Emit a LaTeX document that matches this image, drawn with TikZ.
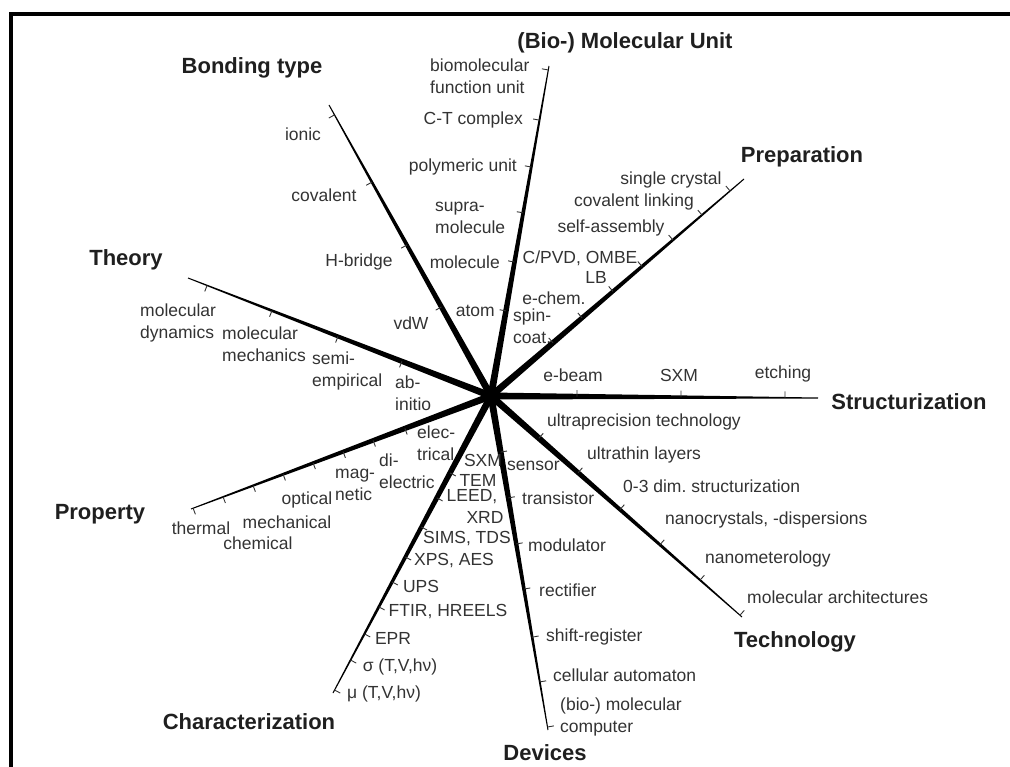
\documentclass[tikz,border=0pt]{standalone}
\usepackage{fontspec}
\setmainfont{Liberation Sans}
\usetikzlibrary{calc}
\frenchspacing
\newcommand\myspoke[1]{\fill[black] ($(c)!3.5pt!90:(#1)$) -- ($(#1)!0.5pt!-90:(c)$) -- ($(#1)!0.5pt!90:(c)$) -- ($(c)!3.5pt!-90:(#1)$) -- cycle;}
\newcommand\mytick[2]{\draw[tk] ($(c)!#2!(#1)$) -- ($(c)!#2!(#1)!6.5pt!90:(#1)$);}
\begin{document}
\begin{tikzpicture}[x=1pt,y=-1pt,
  lbl/.style={inner sep=0pt, font=\fontsize{17.5}{21.5}\selectfont, text=black!80},
  ttl/.style={inner sep=0pt, font=\fontsize{22}{26}\selectfont\bfseries, text=black!88},
  tk/.style={line width=0.9pt, black!80},
  frame/.style={line width=3.3pt}]
\useasboundingbox (0,0) rectangle (1010,767);
\draw[frame] (11,767) -- (11,14) -- (1010,14);
% centre and spoke ends
\coordinate (c) at (491,396);
\coordinate (eB) at (329,105);
\coordinate (eM) at (549,66);
\coordinate (eP) at (744,179);
\coordinate (eS) at (818,398);
\coordinate (eT) at (742,617);
\coordinate (eD) at (548,730);
\coordinate (eK) at (333,693);
\coordinate (eR) at (191,509);
\coordinate (eH) at (188,278);
\foreach \e in {eB,eM,eP,eS,eT,eD,eK,eR,eH} {\myspoke{\e}}
\fill (c) circle (5.5pt);
% ticks
\foreach \t in {0.966,0.735,0.519,0.306} {\mytick{eB}{\t}}
\foreach \t in {0.988,0.836,0.694,0.555,0.406,0.258} {\mytick{eM}{\t}}
\foreach \t in {0.945,0.834,0.719,0.597,0.482,0.360,0.245} {\mytick{eP}{\t}}
\foreach \t in {0.263,0.581,0.899} {\mytick{eS}{\t}}
\foreach \t in {0.191,0.347,0.514,0.673,0.833,0.992} {\mytick{eT}{\t}}
\foreach \t in {0.168,0.305,0.443,0.578,0.722,0.856,0.991} {\mytick{eD}{\t}}
\foreach \t in {0.259,0.343,0.441,0.542,0.626,0.710,0.801,0.889,0.990} {\mytick{eK}{\t}}
\foreach \t in {0.287,0.393,0.493,0.593,0.693,0.793,0.893,0.993} {\mytick{eR}{\t}}
\foreach \t in {0.937,0.723,0.505,0.294} {\mytick{eH}{\t}}
% titles
\node[ttl] (tB) at (252,68) {Bonding type};
\node[ttl] (tM) at (625,43) {(Bio-) Molecular Unit};
\node[ttl] (tP) at (802,157) {Preparation};
\node[ttl] (tS) at (909,402) {Structurization};
\node[ttl] (tT) at (795,642) {Technology};
\node[ttl] (tD) at (545,753) {Devices};
\node[ttl] (tK) at (249,722) {Characterization};
\node[ttl] (tR) at (100,514) {Property};
\node[ttl] (tH) at (126,260) {Theory};
% bonding type
\node[lbl] (ionic) at (303,134) {ionic};
\node[lbl] (coval) at (324,195) {covalent};
\node[lbl] (hbr) at (359,262) {H-bridge};
\node[lbl] (vdw) at (411,323) {vdW};
% molecular unit
\node[lbl,align=left,anchor=west] (bio) at (430,76) {biomolecular\\function unit};
\node[lbl,anchor=east] (ct) at (523,120) {C-T complex};
\node[lbl,anchor=east] (poly) at (517,167) {polymeric unit};
\node[lbl,align=left,anchor=west] (supra) at (435,218) {supra-\\molecule};
\node[lbl,anchor=east] (mol) at (500,262) {molecule};
\node[lbl,anchor=east] (atom) at (495,311) {atom};
% preparation
\node[lbl] (sc) at (671,180) {single crystal};
\node[lbl] (cl) at (634,202) {covalent linking};
\node[lbl] (sa) at (611,228) {self-assembly};
\node[lbl] (cvd) at (580,258) {C/PVD, OMBE};
\node[lbl] (lb) at (596,277) {LB};
\node[lbl] (ech) at (554,298) {e-chem.};
\node[lbl,align=left,anchor=west] (spin) at (513,326) {spin-\\coat.};
% structurization
\node[lbl] (eb) at (573,375) {e-beam};
\node[lbl] (sxmA) at (679,375) {SXM};
\node[lbl] (etch) at (783,374) {etching};
% technology
\node[lbl,anchor=west] (up) at (547,422) {ultraprecision technology};
\node[lbl,anchor=west] (ut) at (587,455) {ultrathin layers};
\node[lbl,anchor=west] (dim) at (623,486) {0-3 dim. structurization};
\node[lbl,anchor=west] (nc) at (665,520) {nanocrystals, -dispersions};
\node[lbl,anchor=west] (nm) at (705,559) {nanometerology};
\node[lbl,anchor=west] (ma) at (747,597) {molecular architectures};
% devices
\node[lbl,anchor=west] (sens) at (507,466) {sensor};
\node[lbl,anchor=west] (tran) at (522,498) {transistor};
\node[lbl,anchor=west] (modu) at (528,545) {modulator};
\node[lbl,anchor=west] (rect) at (539,590) {rectifier};
\node[lbl,anchor=west] (shift) at (546,637) {shift-register};
\node[lbl,anchor=west] (cell) at (553,675) {cellular automaton};
\node[lbl,anchor=west,align=left] (comp) at (560,717) {(bio-) molecular\\computer};
% characterization
\node[lbl] (sxmB) at (483,460) {SXM};
\node[lbl] (tem) at (478,480) {TEM};
\node[lbl] (leed) at (472,497) {LEED,};
\node[lbl] (xrd) at (485,517) {XRD};
\node[lbl] (sims) at (467,539) {SIMS, TDS};
\node[lbl] (xps) at (454,561) {XPS, AES};
\node[lbl] (ups) at (421,586) {UPS};
\node[lbl] (ftir) at (448,612) {FTIR, HREELS};
\node[lbl] (epr) at (393,638) {EPR};
\node[lbl] (sig) at (400,667) {σ (T,V,hν)};
\node[lbl] (mu) at (384,694) {μ (T,V,hν)};
% property
\node[lbl,align=left,anchor=west] (elec) at (417,443) {elec-\\trical};
\node[lbl,align=left,anchor=west] (diel) at (379,471) {di-\\electric};
\node[lbl,align=left,anchor=west] (magn) at (335,485) {mag-\\netic};
\node[lbl] (opt) at (307,500) {optical};
\node[lbl] (mech) at (287,522) {mechanical};
\node[lbl] (chem) at (258,543) {chemical};
\node[lbl] (therm) at (201,528) {thermal};
% theory
\node[lbl,align=left,anchor=west] (md) at (140,323) {molecular\\dynamics};
\node[lbl,align=left,anchor=west] (mm) at (222,344) {molecular\\mechanics};
\node[lbl,align=left,anchor=west] (se) at (312,371) {semi-\\empirical};
\node[lbl,align=left,anchor=west] (ab) at (395,393) {ab-\\initio};
\end{tikzpicture}
\end{document}
